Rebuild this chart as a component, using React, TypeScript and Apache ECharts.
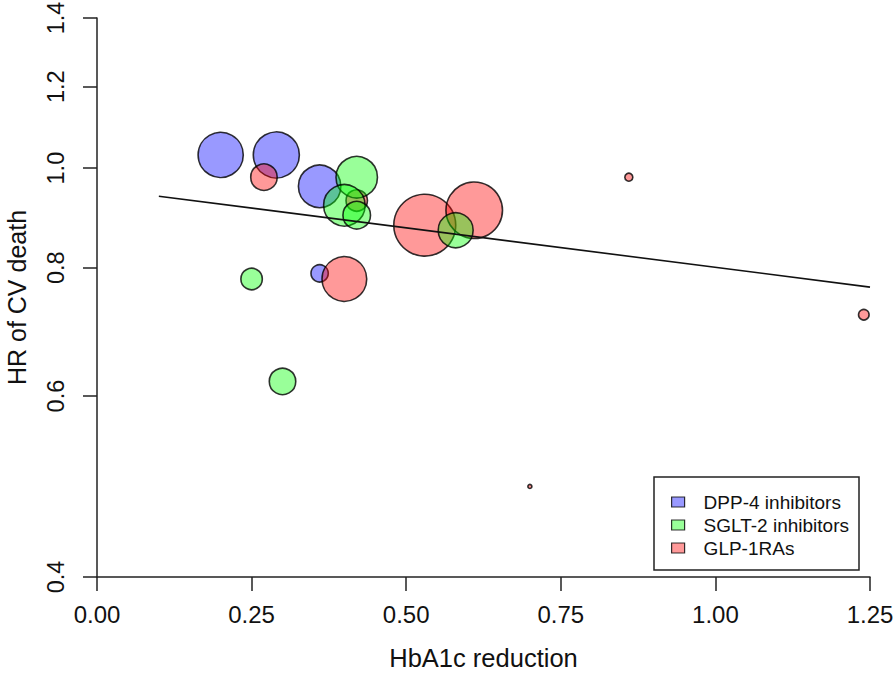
import React, { useEffect, useRef } from "react";
import * as echarts from "echarts";

// ---- data ----
const dppX = [0.2, 0.29, 0.36, 0.36];
const dppHR = [1.03, 1.03, 0.96, 0.79];
const dppW = [5.1, 5.3, 4.5, 0.75];

const glpX = [0.27, 0.42, 0.4, 0.53, 0.61, 0.86, 1.24, 0.7];
const glpHR = [0.98, 0.93, 0.78, 0.88, 0.91, 0.98, 0.72, 0.49];
const glpW = [1.75, 1.15, 5.0, 9.6, 8.0, 0.16, 0.28, 0.04];

const sgltX = [0.42, 0.4, 0.42, 0.25, 0.3, 0.58];
const sgltHR = [0.98, 0.92, 0.9, 0.78, 0.62, 0.87];
const sgltW = [4.3, 4.3, 1.9, 1.15, 1.75, 3.05];

const fitX = [0.1, 1.25];
const fitHR = [0.939, 0.766];

const xTicks = [0, 0.25, 0.5, 0.75, 1.0, 1.25];
const yTicks = [0.4, 0.6, 0.8, 1.0, 1.2, 1.4];

const seriesNames = ["DPP-4 inhibitors", "SGLT-2 inhibitors", "GLP-1RAs"];

const FONT = "'Liberation Sans', Arial, sans-serif";
const AXIS_COLOR = "#222";

function bubbles(xs: number[], hrs: number[], ws: number[]) {
  return xs.map((x, i) => [x, Math.log(hrs[i]), ws[i]]);
}

export default function App() {
  const ref = useRef<HTMLDivElement>(null);
  useEffect(() => {
    if (!ref.current) return;
    const chart = echarts.init(ref.current, null, { renderer: "svg" });
    const sizeFn = (v: number[]) => 2 * 10 * Math.sqrt(v[2]);
    const bubbleStyle = (c: string) => ({
      color: c,
      borderColor: "#000",
      borderWidth: 1.6,
    });
    chart.setOption({
      animation: false,
      backgroundColor: "#fff",
      grid: {
        left: 97,
        right: 26,
        top: 18,
        bottom: 96,
        containLabel: false,
        outerBoundsMode: "none",
      },
      xAxis: {
        type: "value",
        min: xTicks[0],
        max: xTicks[xTicks.length - 1],
        interval: 0.25,
        name: "HbA1c reduction",
        nameLocation: "middle",
        nameGap: 68,
        nameTextStyle: { fontSize: 25.5, color: "#111", fontFamily: FONT },
        axisLine: { show: true, onZero: false, lineStyle: { color: AXIS_COLOR, width: 1.5 } },
        axisTick: { show: true, inside: false, length: 14, lineStyle: { color: AXIS_COLOR, width: 1.5 } },
        axisLabel: {
          margin: 25,
          fontSize: 24,
          color: "#111",
          fontFamily: FONT,
          formatter: (v: number) => v.toFixed(2),
        },
        splitLine: { show: false },
      },
      yAxis: {
        type: "value",
        min: Math.log(yTicks[0]),
        max: Math.log(yTicks[yTicks.length - 1]),
        name: "HR of CV death",
        nameLocation: "middle",
        nameGap: 68,
        nameTextStyle: { fontSize: 25, lineHeight: 25, color: "#111", fontFamily: FONT },
        axisLine: { show: true, onZero: false, lineStyle: { color: AXIS_COLOR, width: 1.5 } },
        axisTick: {
          show: true,
          inside: false,
          length: 14,
          customValues: yTicks.map((t) => Math.log(t)),
          lineStyle: { color: AXIS_COLOR, width: 1.5 },
        },
        axisLabel: {
          customValues: yTicks.map((t) => Math.log(t)),
          rotate: 90,
          margin: 29,
          fontSize: 23.5,
          color: "#111",
          fontFamily: FONT,
          formatter: (v: number) => Math.exp(v).toFixed(1),
        },
        splitLine: { show: false },
      },
      legend: {
        data: seriesNames,
        orient: "vertical",
        left: 671,
        top: 492,
        padding: 0,
        itemGap: 3,
        itemWidth: 13,
        itemHeight: 10,
        icon: "rect",
        itemStyle: { borderColor: "#000", borderWidth: 1.2 },
        textStyle: {
          fontSize: 19,
          lineHeight: 20,
          color: "#111",
          fontFamily: FONT,
          padding: [0, 0, 0, 14],
        },
        selectedMode: false,
      },
      graphic: [
        {
          type: "rect",
          shape: { x: 654, y: 477, width: 205, height: 93 },
          style: { fill: "none", stroke: AXIS_COLOR, lineWidth: 1.5 },
          silent: true,
        },
      ],
      series: [
        {
          name: seriesNames[0],
          type: "scatter",
          data: bubbles(dppX, dppHR, dppW),
          symbolSize: sizeFn,
          itemStyle: bubbleStyle("rgba(0,0,255,0.5)"),
        },
        {
          name: seriesNames[2],
          type: "scatter",
          data: bubbles(glpX, glpHR, glpW),
          symbolSize: sizeFn,
          itemStyle: bubbleStyle("rgba(255,0,0,0.5)"),
        },
        {
          name: seriesNames[1],
          type: "scatter",
          data: bubbles(sgltX, sgltHR, sgltW),
          symbolSize: sizeFn,
          itemStyle: bubbleStyle("rgba(0,255,0,0.5)"),
        },
        {
          name: "fit",
          type: "line",
          data: fitX.map((x, i) => [x, Math.log(fitHR[i])]),
          symbol: "none",
          lineStyle: { color: "#111", width: 1.6 },
          z: 5,
        },
      ],
    });
    return () => chart.dispose();
  }, []);
  return (
    <div
      ref={ref}
      style={{ position: "fixed", left: 0, top: 0, width: 896, height: 673, background: "#fff" }}
    />
  );
}
